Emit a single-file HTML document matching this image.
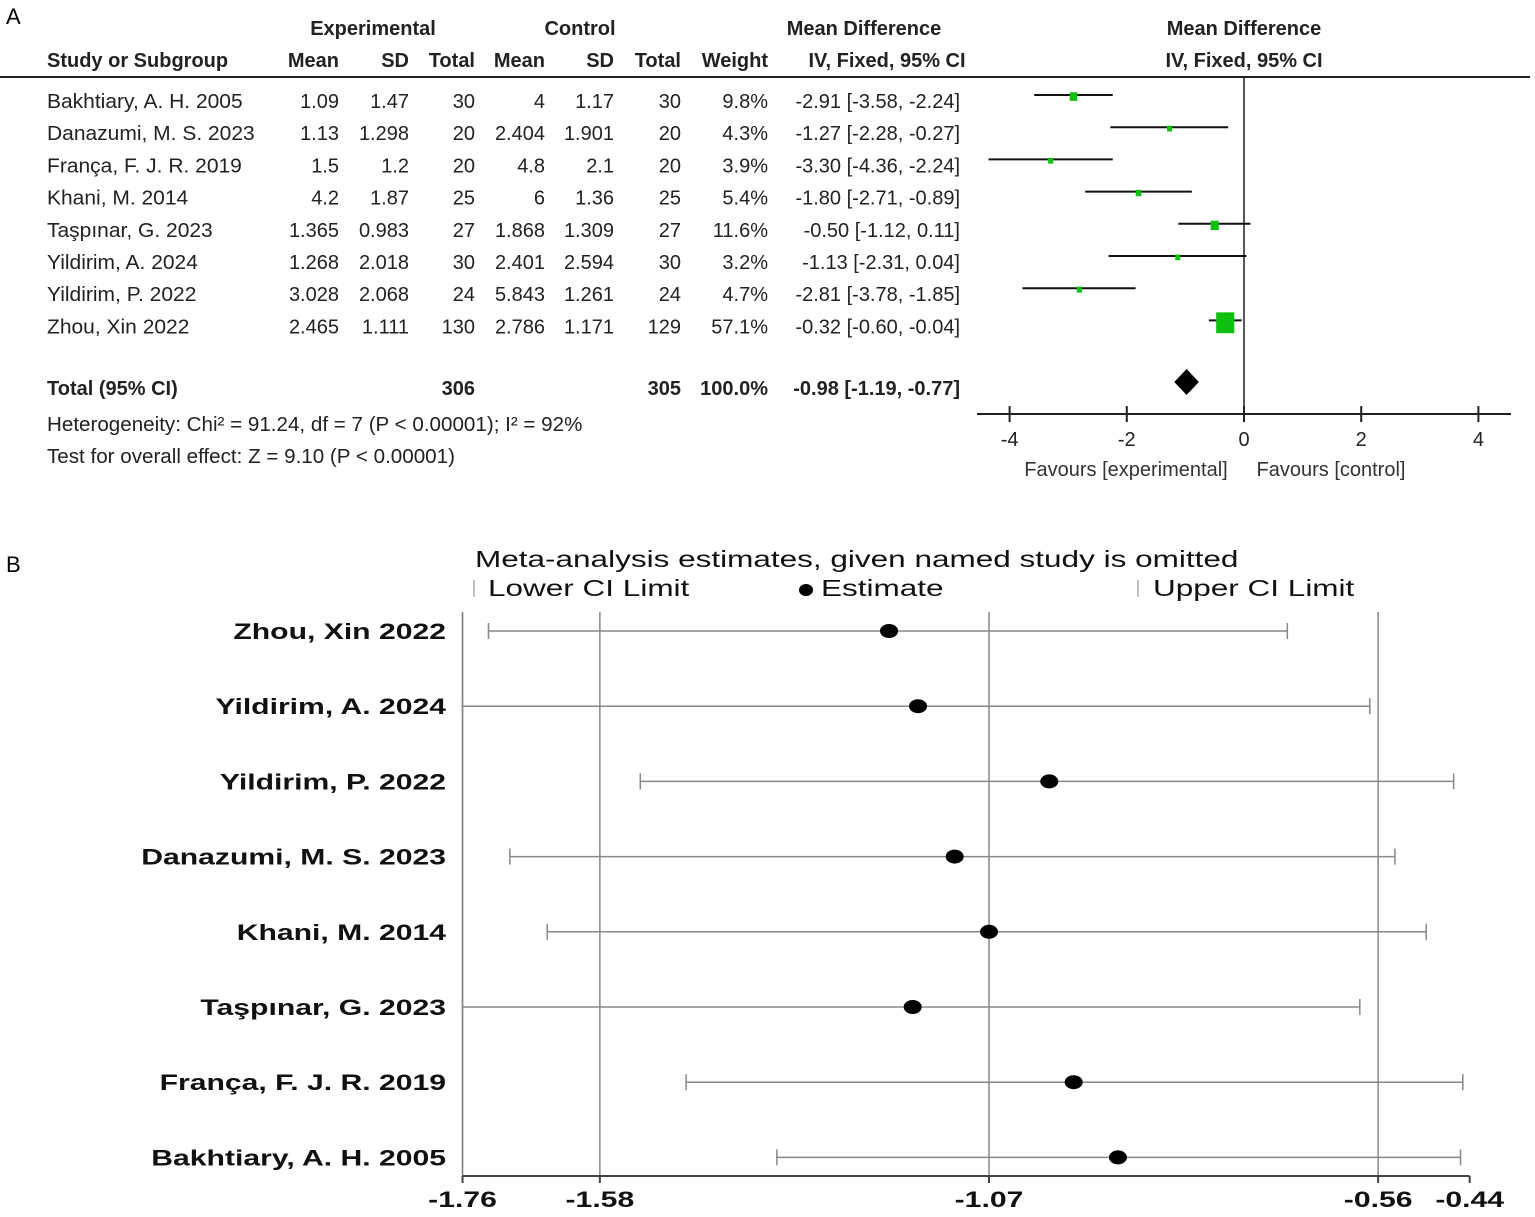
<!DOCTYPE html>
<html><head><meta charset="utf-8"><style>
html,body{margin:0;padding:0;background:#fff;}
svg{display:block;font-family:"Liberation Sans",Arial,sans-serif;}
</style></head><body>
<svg id="chart" width="1535" height="1217" viewBox="0 0 1535 1217" xmlns="http://www.w3.org/2000/svg">
<g id="panelA"></g>
<g id="panelB"></g>
</svg>
<script>
// ---- Panel A data ----
const studiesA = ["Bakhtiary, A. H. 2005","Danazumi, M. S. 2023","França, F. J. R. 2019","Khani, M. 2014","Taşpınar, G. 2023","Yildirim, A. 2024","Yildirim, P. 2022","Zhou, Xin 2022"];
const expMean = ["1.09","1.13","1.5","4.2","1.365","1.268","3.028","2.465"];
const expSD = ["1.47","1.298","1.2","1.87","0.983","2.018","2.068","1.111"];
const expTotal = ["30","20","20","25","27","30","24","130"];
const ctlMean = ["4","2.404","4.8","6","1.868","2.401","5.843","2.786"];
const ctlSD = ["1.17","1.901","2.1","1.36","1.309","2.594","1.261","1.171"];
const ctlTotal = ["30","20","20","25","27","30","24","129"];
const weights = [9.8,4.3,3.9,5.4,11.6,3.2,4.7,57.1];
const md = [-2.91,-1.27,-3.30,-1.80,-0.50,-1.13,-2.81,-0.32];
const mdLow = [-3.58,-2.28,-4.36,-2.71,-1.12,-2.31,-3.78,-0.60];
const mdHigh = [-2.24,-0.27,-2.24,-0.89,0.11,0.04,-1.85,-0.04];
const totalMD = -0.98, totalLow = -1.19, totalHigh = -0.77;
const ticksA = [-4,-2,0,2,4];
// ---- Panel B data ----
const studiesB = ["Zhou, Xin 2022","Yildirim, A. 2024","Yildirim, P. 2022","Danazumi, M. S. 2023","Khani, M. 2014","Taşpınar, G. 2023","França, F. J. R. 2019","Bakhtiary, A. H. 2005"];
const estB = [-1.201,-1.163,-0.991,-1.115,-1.070,-1.170,-0.959,-0.901];
const lowB = [-1.726,-1.760,-1.527,-1.698,-1.649,-1.760,-1.467,-1.348];
const highB = [-0.679,-0.571,-0.461,-0.538,-0.497,-0.584,-0.449,-0.452];
const ticksB = [-1.76,-1.58,-1.07,-0.56,-0.44];
const gridB = [-1.58,-1.07,-0.56];

const NS="http://www.w3.org/2000/svg";
function mk(parent,tag,attrs,txt){const e=document.createElementNS(NS,tag);for(const k in attrs)e.setAttribute(k,attrs[k]);if(txt!==undefined)e.textContent=txt;parent.appendChild(e);return e;}
function stretch(el,f){const x=parseFloat(el.getAttribute('x'));el.setAttribute('transform',`translate(${x},0) scale(${f},1) translate(${-x},0)`);}

// ---- Panel A ----
const A=document.getElementById('panelA');
const xA=v=>1244+v*58.6;
const rowY=i=>101+i*32.2;
let t;
t=mk(A,'text',{x:6,y:24,'font-size':22},'A');


const hdr=[["Experimental",373,35,"middle"],["Control",580,35,"middle"],["Mean Difference",864,35,"middle"],["Mean Difference",1244,35,"middle"],
["Study or Subgroup",47,67,"start"],["Mean",339,67,"end"],["SD",409,67,"end"],["Total",475,67,"end"],["Mean",545,67,"end"],["SD",614,67,"end"],["Total",681,67,"end"],["Weight",768,67,"end"],["IV, Fixed, 95% CI",887,67,"middle"],["IV, Fixed, 95% CI",1244,67,"middle"]];
hdr.forEach(h=>{t=mk(A,'text',{x:h[1],y:h[2],'font-size':20,'font-weight':'bold','text-anchor':h[3],fill:'#222'},h[0]);

});
let l=mk(A,'line',{x1:0,y1:77,x2:1530,y2:77,stroke:'#222','stroke-width':2});


l=mk(A,'line',{x1:xA(0),y1:77,x2:xA(0),y2:414,stroke:'#222','stroke-width':1.5});


studiesA.forEach((s,i)=>{
 const y=rowY(i)+7;
 const cols=[[s,47,'start'],[expMean[i],339,'end'],[expSD[i],409,'end'],[expTotal[i],475,'end'],[ctlMean[i],545,'end'],[ctlSD[i],614,'end'],[ctlTotal[i],681,'end'],[weights[i].toFixed(1)+'%',768,'end'],
 [md[i].toFixed(2)+' ['+mdLow[i].toFixed(2)+', '+mdHigh[i].toFixed(2)+']',960,'end']];
 cols.forEach((c,j)=>{t=mk(A,'text',{x:c[1],y:y,'font-size':20,'text-anchor':c[2],fill:'#222'},c[0]);
 
 
 if(j==0) stretch(t,1.05);});
 const cy=rowY(i)-6;
 l=mk(A,'line',{x1:xA(mdLow[i]),y1:cy,x2:xA(mdHigh[i]),y2:cy,stroke:'#111','stroke-width':2});
 
 
 const sz=Math.max(5,Math.sqrt(weights[i])*2.4);
 const r=mk(A,'rect',{x:xA(md[i])-sz/2,y:cy-sz/2+1,width:sz,height:sz*1.15,fill:'#10c010'});
 
 
});
const ty=395;
[["Total (95% CI)",47,'start'],["306",475,'end'],["305",681,'end'],["100.0%",768,'end'],[totalMD.toFixed(2)+' ['+totalLow.toFixed(2)+', '+totalHigh.toFixed(2)+']',960,'end']].forEach(c=>{
 t=mk(A,'text',{x:c[1],y:ty,'font-size':20,'font-weight':'bold','text-anchor':c[2],fill:'#222'},c[0]);
 
 });
const dy=382;
const dm=mk(A,'polygon',{points:`${xA(totalLow)},${dy} ${xA(totalMD)},${dy-13} ${xA(totalHigh)},${dy} ${xA(totalMD)},${dy+13}`,fill:'#000'});


t=mk(A,'text',{x:47,y:431,'font-size':20,fill:'#222'},'Heterogeneity: Chi² = 91.24, df = 7 (P < 0.00001); I² = 92%');


stretch(t,1.03);
t=mk(A,'text',{x:47,y:463,'font-size':20,fill:'#222'},'Test for overall effect: Z = 9.10 (P < 0.00001)');


stretch(t,1.03);
l=mk(A,'line',{x1:977,y1:414,x2:1511,y2:414,stroke:'#222','stroke-width':2});


ticksA.forEach(v=>{
 l=mk(A,'line',{x1:xA(v),y1:406,x2:xA(v),y2:422,stroke:'#222','stroke-width':2});
 
 
 t=mk(A,'text',{x:xA(v),y:446,'font-size':20,'text-anchor':'middle',fill:'#222'},String(v));
 
 
});
t=mk(A,'text',{x:1126,y:476,'font-size':20,'text-anchor':'middle',fill:'#333'},'Favours [experimental]');


t=mk(A,'text',{x:1331,y:476,'font-size':20,'text-anchor':'middle',fill:'#333'},'Favours [control]');



// ---- Panel B ----
const B=document.getElementById('panelB');
const xB=v=>989+(v+1.07)*763;
const rowB=i=>631+i*75.2;
const SF=1.37;
t=mk(B,'text',{x:6,y:572,'font-size':22},'B');


t=mk(B,'text',{x:475,y:567,'font-size':23,fill:'#111'},'Meta-analysis estimates, given named study is omitted');


stretch(t,SF);
l=mk(B,'line',{x1:474,y1:580,x2:474,y2:597,stroke:'#aaa','stroke-width':1.5});


t=mk(B,'text',{x:488,y:596,'font-size':23,fill:'#111'},'Lower CI Limit');


stretch(t,SF);
const le=mk(B,'ellipse',{cx:806,cy:590,rx:7,ry:6,fill:'#000'});


t=mk(B,'text',{x:821,y:596,'font-size':23,fill:'#111'},'Estimate');


stretch(t,SF);
l=mk(B,'line',{x1:1138,y1:580,x2:1138,y2:597,stroke:'#aaa','stroke-width':1.5});


t=mk(B,'text',{x:1153,y:596,'font-size':23,fill:'#111'},'Upper CI Limit');


stretch(t,SF);
l=mk(B,'line',{x1:xB(-1.76),y1:612,x2:xB(-1.76),y2:1176,stroke:'#777','stroke-width':1.5});


gridB.forEach(v=>{
 l=mk(B,'line',{x1:xB(v),y1:612,x2:xB(v),y2:1176,stroke:'#888','stroke-width':1.5});
 
 
});
l=mk(B,'line',{x1:xB(-1.76),y1:1176,x2:xB(-0.44),y2:1176,stroke:'#444','stroke-width':2});


ticksB.forEach(v=>{
 l=mk(B,'line',{x1:xB(v),y1:1176,x2:xB(v),y2:1183,stroke:'#444','stroke-width':2});
 
 
 t=mk(B,'text',{x:xB(v),y:1207,'font-size':22,'font-weight':'bold','text-anchor':'middle',fill:'#111'},v.toFixed(2));
 
 
 stretch(t,SF);
});
studiesB.forEach((s,i)=>{
 const y=rowB(i);
 t=mk(B,'text',{x:446,y:y+8,'font-size':22,'font-weight':'bold','text-anchor':'end',fill:'#111'},s);
 
 
 stretch(t,SF);
 l=mk(B,'line',{x1:xB(lowB[i]),y1:y,x2:xB(highB[i]),y2:y,stroke:'#888','stroke-width':1.5});
 
 
 [lowB[i],highB[i]].forEach(v=>{
  l=mk(B,'line',{x1:xB(v),y1:y-8,x2:xB(v),y2:y+8,stroke:'#888','stroke-width':1.5});
  
  
 });
 const e=mk(B,'ellipse',{cx:xB(estB[i]),cy:y,rx:9,ry:7,fill:'#000'});
 
 
});
</script>
</body></html>
